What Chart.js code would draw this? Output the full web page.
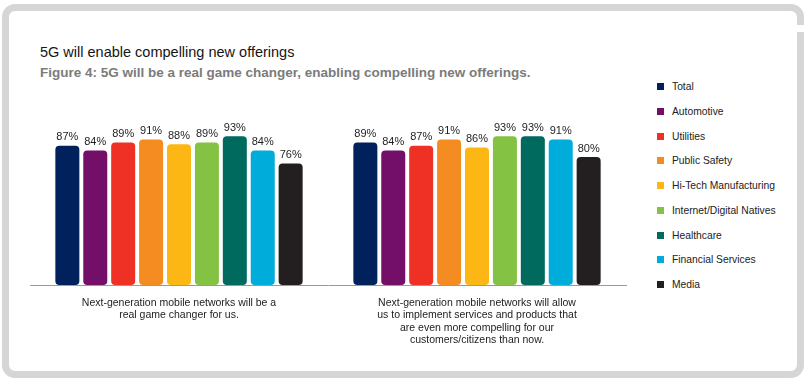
<!DOCTYPE html>
<html>
<head>
<meta charset="utf-8">
<script src="https://cdn.jsdelivr.net/npm/chart.js@4.4.1/dist/chart.umd.min.js"></script>
<style>
  html, body { margin: 0; padding: 0; background: #fff; }
  body { width: 807px; height: 388px; position: relative; overflow: hidden; font-family: "Liberation Sans", Arial, sans-serif; }
  #card { position: absolute; left: 2px; top: 4px; width: 788px; height: 360px; border: 7px solid #d6d6d6; border-radius: 13px; }
  #corte { position: absolute; left: 794px; top: 25px; width: 13px; height: 7px; background: #fff; }
  #titulo { position: absolute; left: 40px; top: 44px; font-size: 14.5px; color: #151515; }
  #subtitulo { position: absolute; left: 40px; top: 65px; font-size: 13.5px; font-weight: bold; color: #7b7b7b; }
  #wrap { position: absolute; left: 0; top: 100px; width: 640px; height: 288px; }
  #leyenda { position: absolute; left: 657px; top: 80px; font-size: 10.3px; color: #222; }
  #leyenda div { height: 24.75px; line-height: 14px; white-space: nowrap; }
  #leyenda span { display: inline-block; width: 7px; height: 7px; margin-right: 8px; vertical-align: 0px; }
</style>
</head>
<body>
<div id="card"></div>
<div id="corte"></div>
<div id="titulo">5G will enable compelling new offerings</div>
<div id="subtitulo">Figure 4: 5G will be a real game changer, enabling compelling new offerings.</div>
<div id="wrap"><canvas id="grafico"></canvas></div>
<div id="leyenda"></div>

<script>
// ---- Datos ----
const categorias = [
    ['Next-generation mobile networks will be a', 'real game changer for us.'],
    ['Next-generation mobile networks will allow', 'us to implement services and products that', 'are even more compelling for our', 'customers/citizens than now.']
];

const sectores = ['Total', 'Automotive', 'Utilities', 'Public Safety', 'Hi-Tech Manufacturing',
                  'Internet/Digital Natives', 'Healthcare', 'Financial Services', 'Media'];

const colores = ['#00215c', '#730f68', '#ee3124', '#f58c22', '#fdb714', '#83c242', '#006a5f', '#00acd9', '#231f20'];

// un valor por categoría para cada sector
const valores = [
    [87, 89],
    [84, 84],
    [89, 87],
    [91, 91],
    [88, 86],
    [89, 93],
    [93, 93],
    [84, 91],
    [76, 80]
];

// ---- Etiquetas sobre las barras ----
const etiquetasBarras = {
    id: 'etiquetasBarras',
    afterDatasetsDraw(chart) {
        const ctx = chart.ctx;
        ctx.save();
        ctx.font = '11px "Liberation Sans", Arial, sans-serif';
        ctx.fillStyle = '#1e1e1e';
        ctx.textAlign = 'center';
        ctx.textBaseline = 'bottom';
        chart.data.datasets.forEach((ds, i) => {
            chart.getDatasetMeta(i).data.forEach((bar, j) => {
                ctx.fillText(ds.data[j] + '%', bar.x, bar.y - 3);
            });
        });
        ctx.restore();
    }
};

const datasets = sectores.map((s, i) => ({
    label: s,
    data: valores[i],
    backgroundColor: colores[i],
    borderRadius: 4,
    borderSkipped: false
}));

new Chart(document.getElementById('grafico'), {
    type: 'bar',
    data: { labels: categorias, datasets },
    options: {
        responsive: true,
        maintainAspectRatio: false,
        animation: false,
        categoryPercentage: 0.843,
        barPercentage: 0.86,
        layout: { padding: { left: 30, right: 14, top: 25, bottom: 0 } },
        plugins: {
            legend: { display: false },
            tooltip: { enabled: false }
        },
        scales: {
            y: { display: false, min: 0, max: 100 },
            x: {
                grid: { display: false },
                border: { display: true, color: '#9a9a9a', width: 1 },
                ticks: {
                    color: '#222',
                    font: { size: 10.5, family: '"Liberation Sans", Arial, sans-serif', lineHeight: 1.17 },
                    padding: 4,
                    maxRotation: 0,
                    autoSkip: false
                },
                afterFit(scale) { scale.height = 103; }
            }
        }
    },
    plugins: [etiquetasBarras]
});

// ---- Leyenda ----
const leyenda = document.getElementById('leyenda');
sectores.forEach((s, i) => {
    const fila = document.createElement('div');
    const cuadro = document.createElement('span');
    cuadro.style.background = colores[i];
    fila.appendChild(cuadro);
    fila.appendChild(document.createTextNode(s));
    leyenda.appendChild(fila);
});
</script>
</body>
</html>
